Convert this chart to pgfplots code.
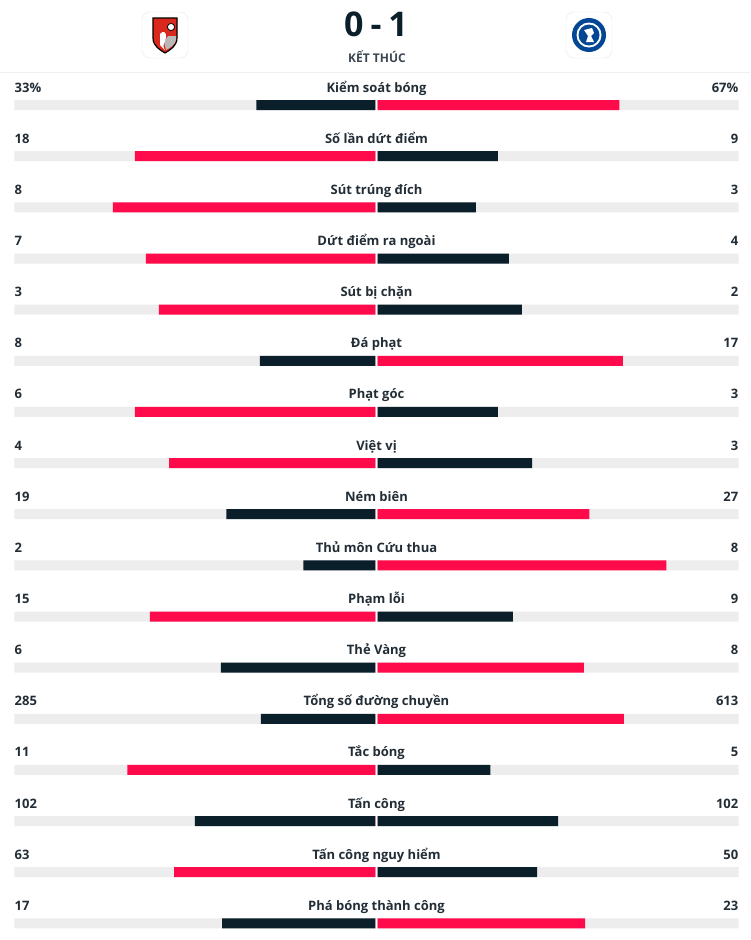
\documentclass[border=0pt]{standalone}
\usepackage{fontspec}
\setmainfont{Open Sans}
\usepackage{pgfplots}
\usepackage{pgfplotstable}
\pgfplotsset{compat=1.18}

\definecolor{hred}{HTML}{FF0A4A}
\definecolor{hdark}{HTML}{0B1F2A}
\definecolor{hgray}{HTML}{EDEDED}
\definecolor{htext}{HTML}{222D36}
\definecolor{hsub}{HTML}{3B4652}
\definecolor{cfcblue}{HTML}{034694}
\definecolor{afcred}{HTML}{DA291C}

\pgfplotstableread{
row l r
1 33 67
2 18 9
3 8 3
4 7 4
5 3 2
6 8 17
7 6 3
8 4 3
9 19 27
10 2 8
11 15 9
12 6 8
13 285 613
14 11 5
15 102 102
16 63 50
17 17 23
}\stats

\pgfplotsset{
  statax/.style={scale only axis, width=361pt, height=869.4pt,
    xmin=0, xmax=1, ymin=0.5, ymax=17.5, y dir=reverse,
    hide axis, clip=false, anchor=north west},
  sbar/.style={xbar, bar shift=0pt, bar width=10pt, draw=none},
}

\tikzset{
  lab/.style={anchor=base, text=htext, font=\fontsize{13}{15}\selectfont\bfseries, inner sep=0pt},
  num/.style={text=htext, font=\fontsize{13}{15}\selectfont\bfseries, inner sep=0pt},
}

% #1 row, #2 label, #3 left text, #4 right text (placed in left axis: x=0 at 375.5pt)
\newcommand\statrow[4]{%
  \node[lab, xshift=1pt, yshift=13pt] at (axis cs:0,#1) {#2};
  \node[num, anchor=base west, yshift=13pt] at (axis cs:1,#1) {#3};
  \node[num, anchor=base east, xshift=363pt, yshift=13pt] at (axis cs:0,#1) {#4};
}

\begin{document}
\begin{tikzpicture}
\path[use as bounding box] (0pt,0pt) rectangle (750pt,-940pt);
\fill[white] (0pt,0pt) rectangle (750pt,-940pt);

% header
\draw[gray!18, fill=white, rounded corners=8pt] (142pt,-12pt) rectangle (188pt,-58pt);
\draw[gray!18, fill=white, rounded corners=8pt] (566pt,-12pt) rectangle (612pt,-58pt);
% Bournemouth-like crest
\filldraw[fill=afcred, draw=black, line width=1.2pt]
  (153pt,-18pt) -- (177pt,-18pt) -- (177pt,-38pt) .. controls (177pt,-46pt) and (170pt,-50pt) .. (165pt,-53pt)
  .. controls (160pt,-50pt) and (153pt,-46pt) .. (153pt,-38pt) -- cycle;
\fill[gray!55] (168pt,-36pt) -- (176pt,-36pt) -- (176pt,-40pt) .. controls (175pt,-45pt) and (170pt,-48pt) .. (166pt,-50pt) -- (164pt,-42pt) -- cycle;
\fill[white] (160pt,-34pt) .. controls (163pt,-30pt) and (167pt,-32pt) .. (166pt,-38pt) .. controls (164pt,-44pt) and (162pt,-46pt) .. (165pt,-50pt) -- (160pt,-45pt) -- cycle;
\filldraw[fill=white, draw=black, line width=0.8pt] (171pt,-27pt) circle (3.6pt);
% Chelsea-like crest
\fill[cfcblue] (589pt,-35pt) circle (17pt);
\fill[white] (589pt,-35pt) circle (12.5pt);
\fill[cfcblue] (589pt,-35pt) circle (10.5pt);
\fill[white] (584pt,-30pt) -- (592pt,-28pt) -- (594pt,-33pt) -- (591pt,-36pt) -- (594pt,-42pt) -- (586pt,-42pt) -- (588pt,-36pt) -- cycle;

\node[anchor=base, text=hdark, font=\fontsize{34}{36}\selectfont\bfseries, inner sep=0pt] at (376pt,-36pt) {0\hspace{7pt}-\hspace{7pt}1};
\node[anchor=base, text=hsub, font=\fontsize{12}{14}\selectfont\bfseries, inner sep=0pt] at (377pt,-62pt) {KẾT THÚC};
\draw[gray!12, line width=1pt] (0pt,-72.5pt) -- (750pt,-72.5pt);

% left half
\begin{axis}[statax, at={(14.5pt,-79.5pt)}, x dir=reverse]
\addplot[sbar, fill=hgray] table[x expr=1, y=row] {\stats};
\addplot[sbar, fill=hdark] table[x expr={ifthenelse(\thisrow{l}>\thisrow{r},0,\thisrow{l}/(\thisrow{l}+\thisrow{r}))}, y=row] {\stats};
\addplot[sbar, fill=hred] table[x expr={ifthenelse(\thisrow{l}>\thisrow{r},\thisrow{l}/(\thisrow{l}+\thisrow{r}),0)}, y=row] {\stats};
\statrow{1}{Kiểm soát bóng}{33\%}{67\%}
\statrow{2}{Số lần dứt điểm}{18}{9}
\statrow{3}{Sút trúng đích}{8}{3}
\statrow{4}{Dứt điểm ra ngoài}{7}{4}
\statrow{5}{Sút bị chặn}{3}{2}
\statrow{6}{Đá phạt}{8}{17}
\statrow{7}{Phạt góc}{6}{3}
\statrow{8}{Việt vị}{4}{3}
\statrow{9}{Ném biên}{19}{27}
\statrow{10}{Thủ môn Cứu thua}{2}{8}
\statrow{11}{Phạm lỗi}{15}{9}
\statrow{12}{Thẻ Vàng}{6}{8}
\statrow{13}{Tổng số đường chuyền}{285}{613}
\statrow{14}{Tắc bóng}{11}{5}
\statrow{15}{Tấn công}{102}{102}
\statrow{16}{Tấn công nguy hiểm}{63}{50}
\statrow{17}{Phá bóng thành công}{17}{23}
\end{axis}

% right half
\begin{axis}[statax, at={(377.5pt,-79.5pt)}]
\addplot[sbar, fill=hgray] table[x expr=1, y=row] {\stats};
\addplot[sbar, fill=hdark] table[x expr={ifthenelse(\thisrow{r}>\thisrow{l},0,\thisrow{r}/(\thisrow{l}+\thisrow{r}))}, y=row] {\stats};
\addplot[sbar, fill=hred] table[x expr={ifthenelse(\thisrow{r}>\thisrow{l},\thisrow{r}/(\thisrow{l}+\thisrow{r}),0)}, y=row] {\stats};
\end{axis}
\end{tikzpicture}
\end{document}
